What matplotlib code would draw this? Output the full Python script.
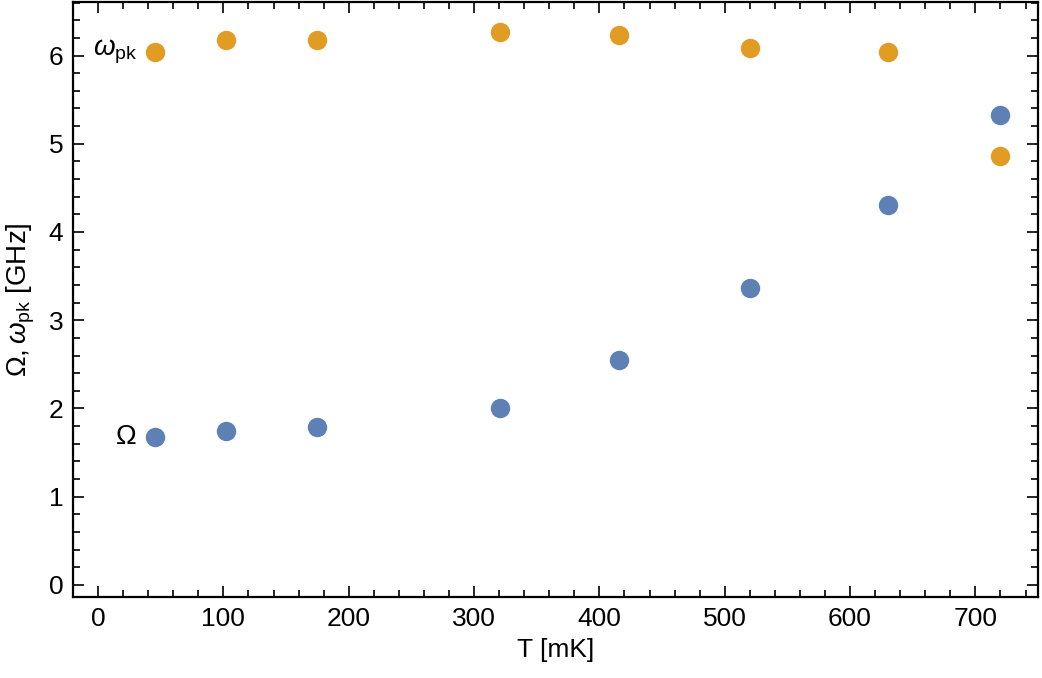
import matplotlib
matplotlib.use("Agg")
import matplotlib.pyplot as plt
from matplotlib.ticker import MultipleLocator

# temperature [mK]
T = [45, 102, 175, 321, 416, 520, 630, 720]
# fitted frequencies [GHz]
omega_pk = [6.04, 6.18, 6.18, 6.27, 6.23, 6.09, 6.04, 4.86]
Omega = [1.68, 1.74, 1.79, 2.00, 2.55, 3.37, 4.31, 5.33]

BLUE = "#5E81B5"
ORANGE = "#E19C24"

plt.rcParams["font.family"] = ["Liberation Sans", "DejaVu Sans"]
plt.rcParams["mathtext.fontset"] = "custom"
plt.rcParams["mathtext.rm"] = "Liberation Sans"
plt.rcParams["mathtext.it"] = "Liberation Sans:italic"

fig = plt.figure(figsize=(10.42, 6.78), dpi=100)
ax = fig.add_axes([0.0701, 0.1195, 0.9261, 0.8775])

ax.plot(T, omega_pk, "o", color=ORANGE, markersize=14, markeredgewidth=0)
ax.plot(T, Omega, "o", color=BLUE, markersize=14, markeredgewidth=0)

# curve labels next to the first point
ax.text(T[0] - 14, omega_pk[0], r"$\omega_{\rm pk}$", fontsize=20,
        ha="right", va="center")
ax.text(T[0] - 14, Omega[0], r"$\Omega$", fontsize=20, ha="right", va="center")

ax.set_xlim(-20, 750)
ax.set_ylim(-0.136, 6.606)
ax.xaxis.set_major_locator(MultipleLocator(100))
ax.xaxis.set_minor_locator(MultipleLocator(20))
ax.yaxis.set_major_locator(MultipleLocator(1))
ax.yaxis.set_minor_locator(MultipleLocator(0.2))

ax.tick_params(which="both", direction="in", top=True, right=True,
               labelsize=19, width=1.2, pad=7)
ax.tick_params(which="major", length=8)
ax.tick_params(which="minor", length=5)
for s in ax.spines.values():
    s.set_linewidth(1.6)

ax.set_xlabel("T [mK]", fontsize=19, labelpad=5)
ax.set_ylabel(r"$\Omega,\omega_{\rm pk}$ [GHz]", fontsize=20, labelpad=8)

fig.savefig("out.png", dpi=100)
